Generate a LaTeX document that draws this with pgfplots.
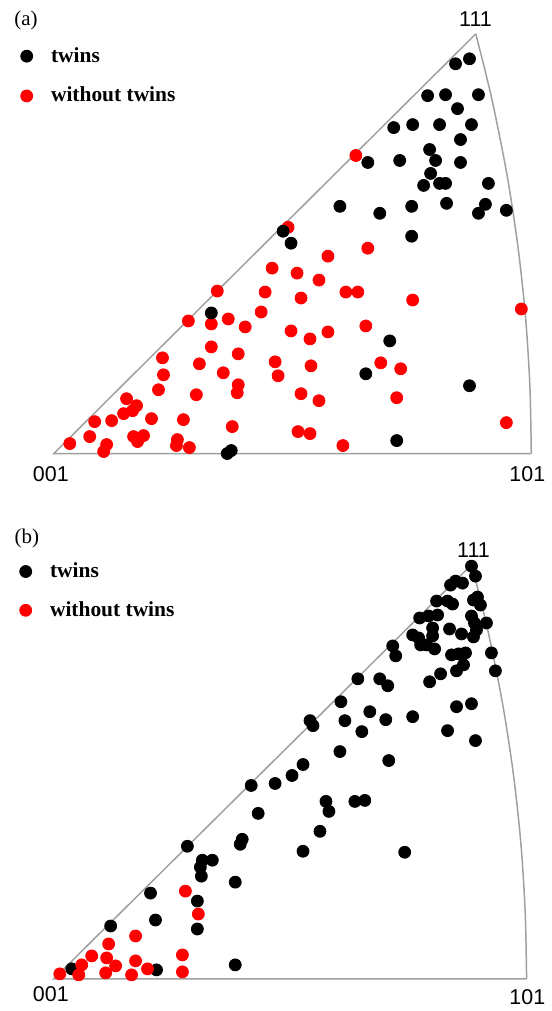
\documentclass[border=0pt]{standalone}
\usepackage{fontspec}
\setmainfont{Liberation Serif}
\setsansfont{Liberation Sans}
\newfontfamily\lblfamily{Liberation Sans}
\usepackage{pgfplots}
\pgfplotsset{compat=1.18}
\definecolor{framegray}{RGB}{160,160,160}
\definecolor{dotred}{RGB}{255,0,0}
\newcommand{\lbl}[1]{{\lblfamily\fontsize{10.75}{12}\selectfont #1}}
\newcommand{\pnl}[1]{{\rmfamily\fontsize{10.5}{12}\selectfont #1}}
\pgfplotsset{
  ipf/.style={
    x=0.5pt, y=0.5pt, y dir=reverse,
    xmin=0, xmax=553, ymin=0, ymax=1011,
    hide axis, clip=false,
    legend cell align=left,
    legend image code/.code={\draw[##1] plot coordinates {(0pt,0pt)}; \path (-3.2pt,0pt) (10pt,0pt);},
    legend style={draw=none, fill=none, inner sep=0pt,
      font=\bfseries\fontsize{10.75}{12}\selectfont},
  },
  frame/.style={framegray, line width=0.75pt, no marks, forget plot},
  tw/.style={only marks, mark=*, mark size=3pt, black},
  nt/.style={only marks, mark=*, mark size=3pt, dotred},
}
\begin{document}
\begin{tikzpicture}
% ---------------- panel (a) ----------------
\begin{axis}[ipf, reverse legend,
  legend style={at={(axis cs:19.6,43)}, anchor=north west, row sep=7pt}]
\path (rel axis cs:0,0) rectangle (rel axis cs:1,1);
\addplot[frame, sharp plot] coordinates {(477.3,34) (54,455) (533,455)};
\addplot[frame, smooth] coordinates {(533,455) (531.6,387.5) (527.3,319.1) (519.8,249.0) (508.7,175.8) (493.2,98.3) (477.3,34)};
\addplot[nt] coordinates {
(357,156) (289,228) (329,257) (369,249) (273,269) (298,274) (320,281) (302,299)
(347,293) (359,293) (414,301) (523,310) (292,332) (311,340) (329,333) (367,327)
(276,363) (279,377) (312,367) (382,364) (402,370) (302,395) (320,402) (398,399)
(508,424) (299,433) (311,435) (344,447)
(218,292) (266,293) (189,322) (212,325) (229,320) (246,328) (262,313) (212,348)
(239,355) (163,359) (200,365) (224,374) (164,376) (239,386) (238,394) (159,391)
(197,396) (127,400) (137,407) (133,412) (124,415) (95,423) (112,422) (152,420)
(184,421) (233,428) (90,438) (134,438) (138,443) (144,437) (70,445) (107,446)
(104,453) (178,441) (177,447) (190,449)};
\addlegendentry{without twins}
\addplot[tw] coordinates {
(471,59) (457,64) (429,96) (447,95) (480,95) (459,109) (395,128) (414,125)
(441,125) (473,125) (462,140) (369,163) (401,161) (431,150) (437,161) (462,163)
(432,174) (425,186) (441,184) (447,184) (490,184) (341,207) (381,214) (413,207)
(448,204) (487,205) (480,214) (508,211) (284,232) (292,244) (413,237) (212,314)
(391,342) (367,375) (471,387) (398,442) (228,455) (232,452)};
\addlegendentry{twins}
\node at (axis cs:26,21) {\pnl{(a)}};
\node at (axis cs:477,19) {\lbl{111}};
\node at (axis cs:51,476) {\lbl{001}};
\node at (axis cs:529,476) {\lbl{101}};
\end{axis}
% ---------------- panel (b) ----------------
\begin{axis}[ipf,
  legend style={at={(axis cs:18.6,560)}, anchor=north west, row sep=6.5pt}]
\addplot[frame, sharp plot] coordinates {(473.1,566.5) (54,982) (528.3,982)};
\addplot[frame, smooth] coordinates {(528.3,982) (526.9,915.4) (522.7,847.9) (515.3,778.6) (504.3,706.5) (488.9,630.0) (473.1,566.5)};
\addplot[tw] coordinates {
(473,568) (477,578) (452,587) (457,583) (464,585) (438,603) (449,603) (454,606)
(475,602) (479,599) (482,607) (421,620) (430,618) (439,617) (473,618) (488,625)
(434,630) (451,631) (463,636) (476,625) (478,632) (475,639) (414,637) (420,640)
(434,638) (422,647) (428,647) (436,651) (394,648) (397,658) (453,657) (460,656)
(467,655) (493,655) (465,667) (458,673) (497,673) (442,676) (431,684) (359,681)
(381,681) (389,688) (342,704) (371,714) (346,723) (387,722) (414,719) (311,723)
(314,728) (363,734) (458,709) (473,706) (449,733) (477,743) (341,754) (390,763)
(304,767) (293,778) (276,786) (252,788) (259,816) (327,804) (330,814) (356,804)
(366,803) (321,834) (243,842) (241,847) (304,854) (406,855) (188,849) (203,863)
(213,863) (201,870) (202,879) (236,885) (151,896) (198,904) (156,923) (198,932)
(111,929) (236,968) (157,973) (72,972)};
\addlegendentry{twins}
\addplot[nt] coordinates {
(186,894) (199,917) (136,939) (109,947) (92,959) (107,961) (116,969) (136,964)
(183,958) (82,968) (79,978) (60,977) (106,976) (132,978) (148,972) (183,975)};
\addlegendentry{without twins}
\node at (axis cs:27,540) {\pnl{(b)}};
\node at (axis cs:475,552) {\lbl{111}};
\node at (axis cs:51,997) {\lbl{001}};
\node at (axis cs:529,1000) {\lbl{101}};
\end{axis}
\end{tikzpicture}
\end{document}
